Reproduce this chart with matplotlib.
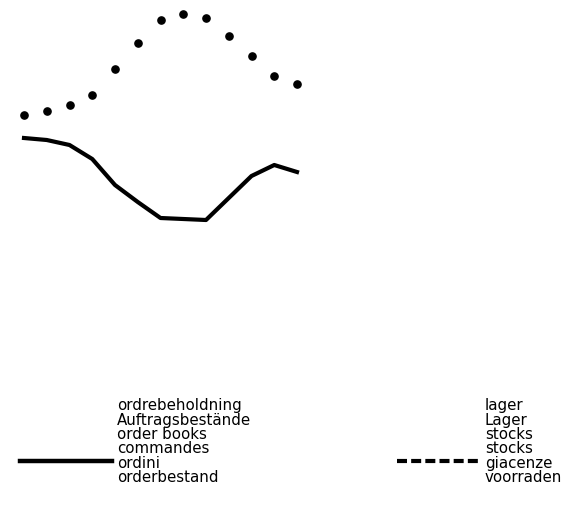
import numpy as np
import matplotlib.pyplot as plt
from matplotlib.lines import Line2D

# monthly index, 13 observations
months = np.arange(13)

# stocks (dotted series) and order books (solid line), arbitrary index units
stocks = [134, 138, 144, 154, 180, 206, 229, 235, 231, 213, 193, 173, 165]
orders = [111, 109, 104, 90, 64, 47, 31, 30, 29, 51, 73, 84, 77]

orders_labels = ['ordrebeholdning', 'Auftragsbestände', 'order books',
                 'commandes', 'ordini', 'orderbestand']
stocks_labels = ['lager', 'Lager', 'stocks', 'stocks', 'giacenze', 'voorraden']

W, H = 581, 510
fig = plt.figure(figsize=(W / 100, H / 100), dpi=100)
ax = fig.add_axes([0, 0, 1, 1])
ax.axis('off')

# map data to pixels: x step 22.75 px starting at 24 px, y = 250 - pixel
ax.set_xlim(-24 / 22.75, (W - 24) / 22.75)
ax.set_ylim(250 - H, 250)

ax.plot(months, stocks, linestyle='none', marker='o', markersize=5.2,
        color='black')
ax.plot(months, orders, color='black', linewidth=3.0, solid_joinstyle='round')


def px(x, y):
    return x / W, 1 - y / H


# legend: order books
x0, y0 = px(20, 462)
x1, _ = px(112, 462)
fig.add_artist(Line2D([x0, x1], [y0, y0], color='black', linewidth=3.2,
                      transform=fig.transFigure))
# legend: stocks
x0, y0 = px(397, 462)
x1, _ = px(482, 462)
fig.add_artist(Line2D([x0, x1], [y0, y0], color='black', linewidth=3.0,
                      linestyle=(0, (2.4, 1.0)), transform=fig.transFigure))

line_ys = [406, 420.5, 435, 449, 463.5, 478]
for lbl, yy in zip(orders_labels, line_ys):
    fx, fy = px(117, yy)
    fig.text(fx, fy, lbl, fontsize=10.8, family='DejaVu Sans', va='center',
             ha='left')
for lbl, yy in zip(stocks_labels, line_ys):
    fx, fy = px(485, yy)
    fig.text(fx, fy, lbl, fontsize=10.8, family='DejaVu Sans', va='center',
             ha='left')

fig.savefig('out.png', dpi=100)
